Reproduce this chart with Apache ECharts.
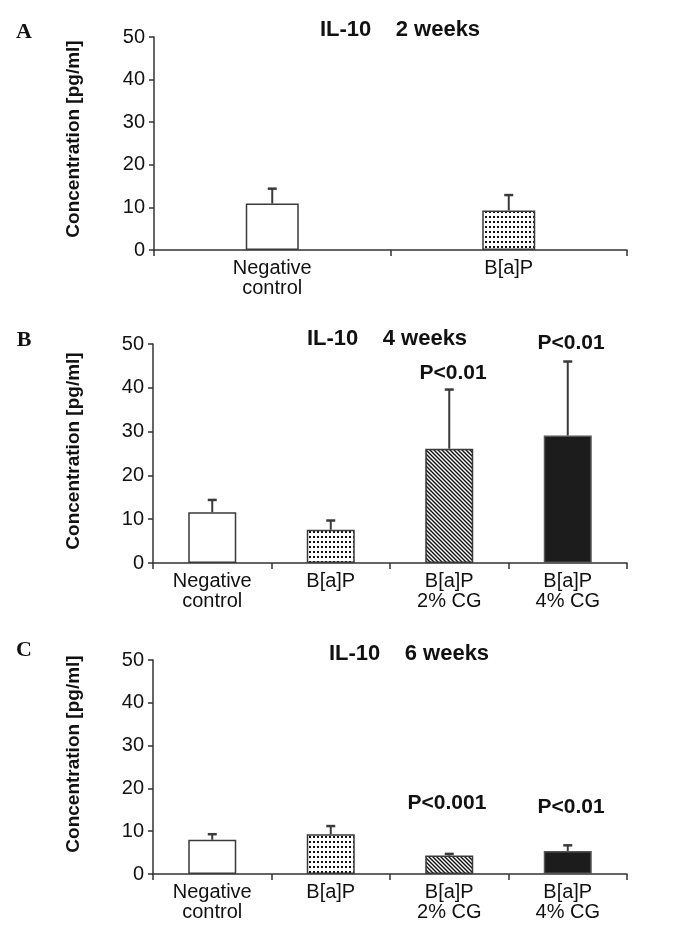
<!DOCTYPE html>
<html>
<head>
<meta charset="utf-8">
<script src="https://cdn.jsdelivr.net/npm/echarts@6/dist/echarts.min.js"></script>
<style>
html,body{margin:0;padding:0;background:#fff;}
#chart{width:688px;height:926px;}
</style>
</head>
<body>
<div id="chart"></div>
<script>
// ---- data ----
const categoriesA = ['Negative\ncontrol', 'B[a]P'];
const categoriesBC = ['Negative\ncontrol', 'B[a]P', 'B[a]P\n2% CG', 'B[a]P\n4% CG'];
const meanA = [10.9, 9.3];
const sdA = [3.5, 3.6];
const meanB = [11.6, 7.6, 26.1, 29.1];
const sdB = [2.8, 2.1, 13.5, 16.9];
const meanC = [8.0, 9.3, 4.3, 5.4];
const sdC = [1.3, 1.9, 0.4, 1.3];
const yMin = 0, yMax = 50, yStep = 10;
const panelTitles = ['IL-10    2 weeks', 'IL-10    4 weeks', 'IL-10    6 weeks'];
const panelLetters = ['A', 'B', 'C'];
const yAxisName = 'Concentration [pg/ml]';
const pLabelsB = ['P<0.01', 'P<0.01'];
const pLabelsC = ['P<0.001', 'P<0.01'];

// ---- patterns ----
function dotPattern() {
  const c = document.createElement('canvas');
  c.width = 4; c.height = 5;
  const g = c.getContext('2d');
  g.fillStyle = '#fff'; g.fillRect(0, 0, 4, 5);
  g.fillStyle = '#111'; g.fillRect(1, 1, 2, 2);
  return c;
}
function hatchPattern() {
  const s = 4;
  const c = document.createElement('canvas');
  c.width = s; c.height = s;
  const g = c.getContext('2d');
  g.fillStyle = '#fff'; g.fillRect(0, 0, s, s);
  g.strokeStyle = '#111'; g.lineWidth = 1.4;
  for (let k = -1; k <= 1; k++) {
    g.beginPath();
    g.moveTo(k * s - 1, -1);
    g.lineTo(k * s + s + 1, s + 1);
    g.stroke();
  }
  return c;
}
const fills = [
  '#ffffff',
  { image: dotPattern(), repeat: 'repeat' },
  { image: hatchPattern(), repeat: 'repeat' },
  '#1c1c1c'
];
const borders = ['#3a3a3a', '#3a3a3a', '#3a3a3a', '#555555'];

const FONT = '"Liberation Sans", Arial, sans-serif';
const AX = '#333';

const grids = [
  { left: 154, right: 61, top: 37, height: 213 },
  { left: 153, right: 61, top: 344, height: 219 },
  { left: 153, right: 61, top: 660, height: 214 }
];

function xAxisFor(i, cats) {
  return {
    type: 'category', gridIndex: i, data: cats,
    axisLine: { lineStyle: { color: AX, width: 1.5 } },
    axisTick: { show: true, length: 6, lineStyle: { color: AX, width: 1.5 } },
    axisLabel: { interval: 0, fontSize: 20, lineHeight: 20, margin: 8, color: '#111', fontFamily: FONT },
    splitLine: { show: false }
  };
}
function yAxisFor(i) {
  return {
    type: 'value', gridIndex: i, min: yMin, max: yMax, interval: yStep,
    axisLine: { show: true, lineStyle: { color: AX, width: 1.5 } },
    axisTick: { show: true, length: 5, lineStyle: { color: AX, width: 1.5 } },
    axisLabel: { fontSize: 20, margin: 9, color: '#111', fontFamily: FONT },
    splitLine: { show: false }
  };
}
function barSeries(i, means, bw) {
  return {
    type: 'bar', xAxisIndex: i, yAxisIndex: i, barWidth: bw,
    data: means.map((v, k) => ({
      value: v,
      itemStyle: { color: fills[k], borderColor: borders[k], borderWidth: 1.5 }
    })),
    silent: true, animation: false
  };
}
function errSeries(i, means, sds) {
  return {
    type: 'custom', xAxisIndex: i, yAxisIndex: i, z: 5, animation: false, silent: true,
    data: means.map((m, k) => [k, m, sds[k]]),
    encode: { x: 0, y: 1 },
    renderItem: function (params, api) {
      const x = api.value(0), m = api.value(1), s = api.value(2);
      const base = api.coord([x, m]);
      const top = api.coord([x, m + s]);
      const cap = 4.5;
      return {
        type: 'group', children: [
          { type: 'line', shape: { x1: base[0], y1: base[1], x2: top[0], y2: top[1] }, style: { stroke: '#3a3a3a', lineWidth: 2 } },
          { type: 'line', shape: { x1: top[0] - cap, y1: top[1], x2: top[0] + cap, y2: top[1] }, style: { stroke: '#3a3a3a', lineWidth: 2.5 } }
        ]
      };
    }
  };
}

function txt(text, x, y, size, weight, family, extra) {
  return Object.assign({
    type: 'text', x: x, y: y, silent: true,
    style: { text: text, fontSize: size, fontWeight: weight, fontFamily: family, fill: '#111', align: 'center', verticalAlign: 'middle' }
  }, extra || {});
}

const SERIF = '"Liberation Serif", "Times New Roman", serif';
const graphics = [
  txt(panelLetters[0], 24, 32, 22, 'bold', SERIF),
  txt(panelLetters[1], 24, 340, 22, 'bold', SERIF),
  txt(panelLetters[2], 24, 650, 22, 'bold', SERIF),
  txt(panelTitles[0], 400, 30, 22, 'bold', FONT),
  txt(panelTitles[1], 387, 339, 22, 'bold', FONT),
  txt(panelTitles[2], 409, 654, 22, 'bold', FONT),
  txt(yAxisName, 74, 139, 19, 'bold', FONT, { rotation: Math.PI / 2 }),
  txt(yAxisName, 74, 451, 19, 'bold', FONT, { rotation: Math.PI / 2 }),
  txt(yAxisName, 74, 754, 19, 'bold', FONT, { rotation: Math.PI / 2 }),
  txt(pLabelsB[0], 453, 373, 21, 'bold', FONT),
  txt(pLabelsB[1], 571, 343, 21, 'bold', FONT),
  txt(pLabelsC[0], 447, 803, 21, 'bold', FONT),
  txt(pLabelsC[1], 571, 807, 21, 'bold', FONT)
];

const chart = echarts.init(document.getElementById('chart'), null, { renderer: 'canvas' });
chart.setOption({
  animation: false,
  backgroundColor: '#fff',
  grid: grids,
  xAxis: [xAxisFor(0, categoriesA), xAxisFor(1, categoriesBC), xAxisFor(2, categoriesBC)],
  yAxis: [yAxisFor(0), yAxisFor(1), yAxisFor(2)],
  series: [
    barSeries(0, meanA, 53), errSeries(0, meanA, sdA),
    barSeries(1, meanB, 48), errSeries(1, meanB, sdB),
    barSeries(2, meanC, 48), errSeries(2, meanC, sdC)
  ],
  graphic: graphics
});
</script>
</body>
</html>
